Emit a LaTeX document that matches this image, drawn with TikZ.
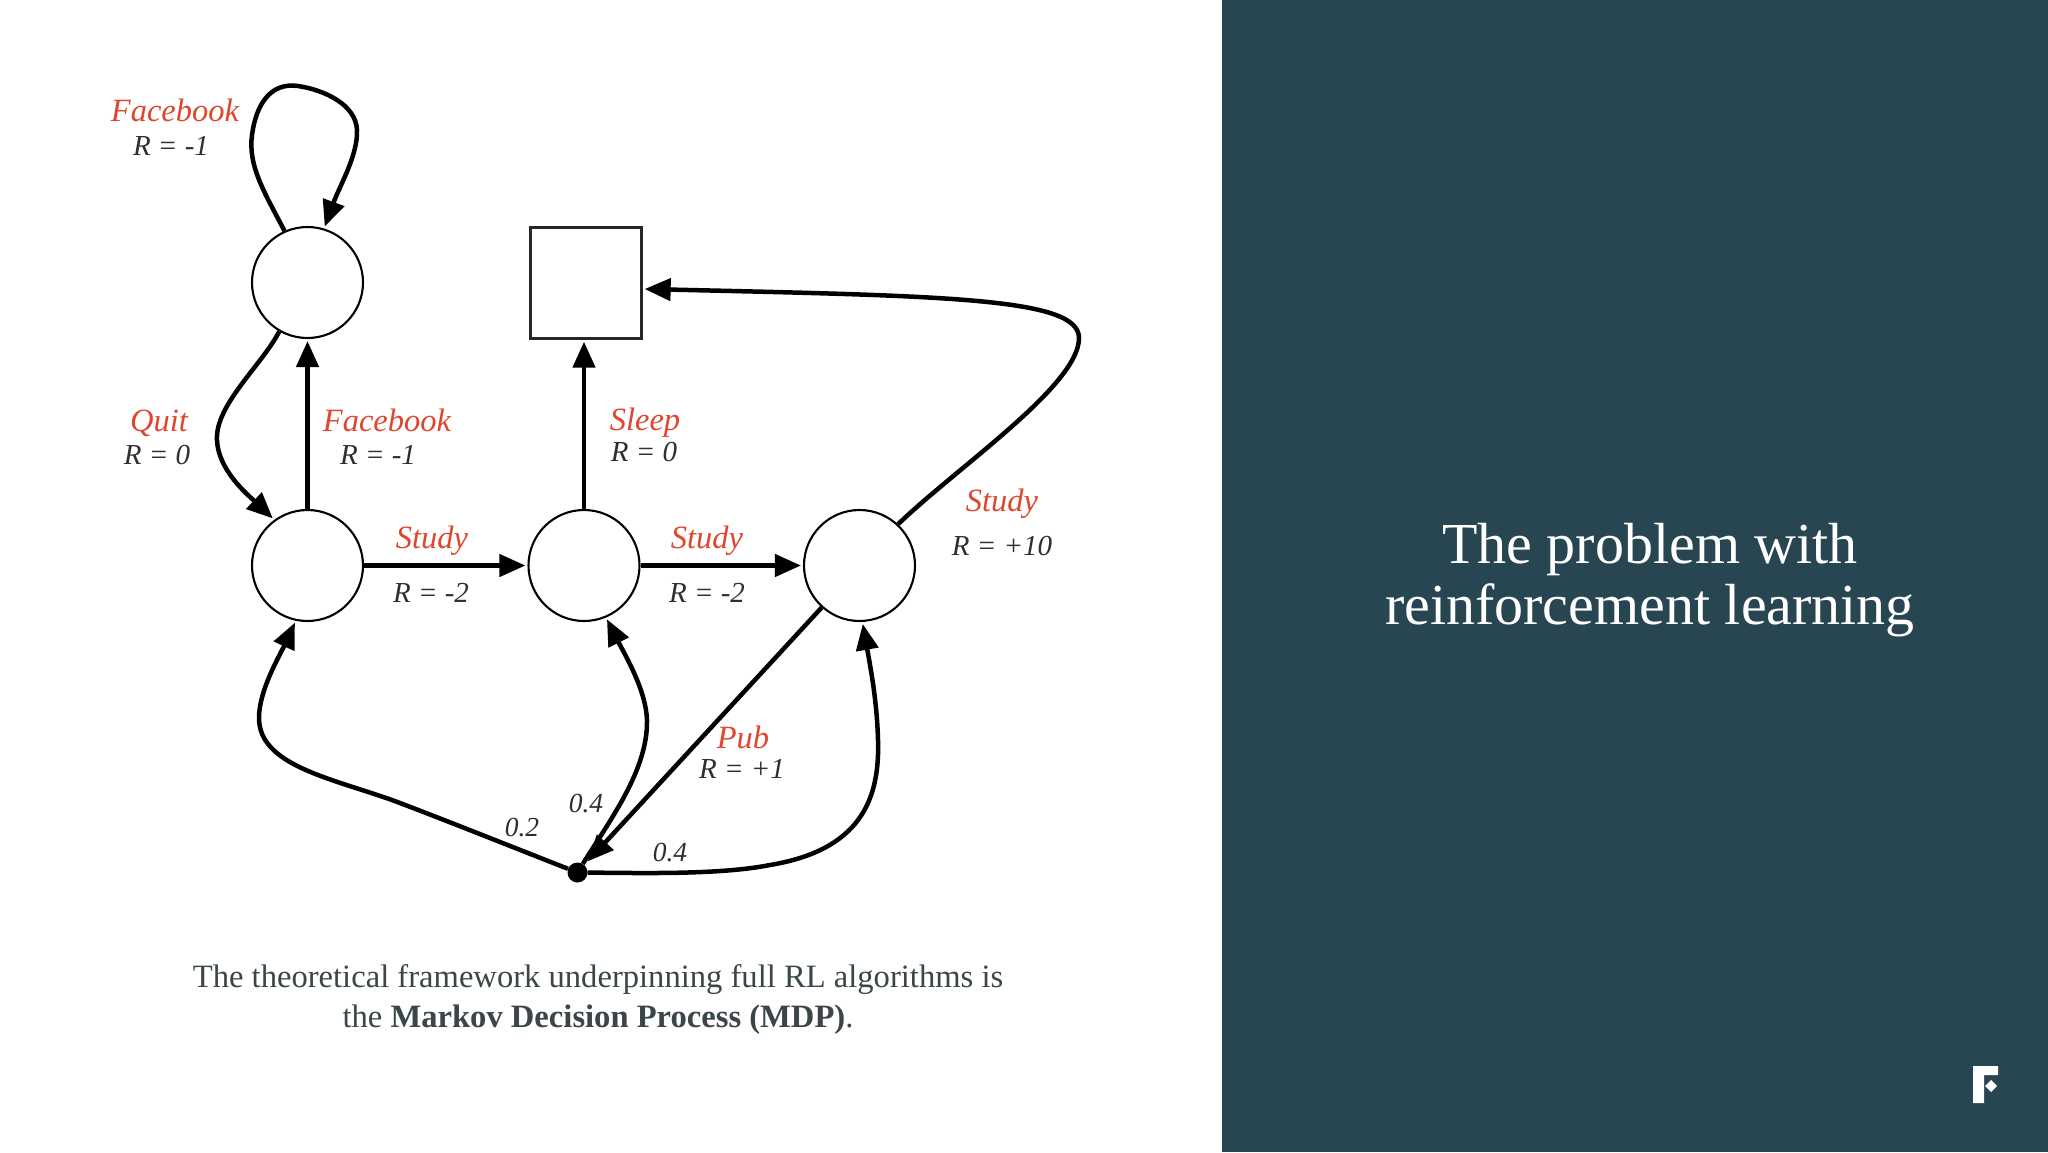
\documentclass[tikz,border=0pt]{standalone}
\usepackage{fontspec}
\setmainfont{Liberation Serif}
\usetikzlibrary{arrows.meta,calc}
\definecolor{panel}{HTML}{284552}
\definecolor{redlab}{HTML}{E0462E}
\definecolor{graylab}{HTML}{2F2F2F}
\definecolor{bodyc}{HTML}{3A4648}
\tikzset{
  state/.style={circle,draw=black,line width=2.1pt,minimum size=111pt,inner sep=0pt,fill=white},
  term/.style={rectangle,draw=black!85,line width=2.3pt,minimum width=111pt,minimum height=111pt,inner sep=0pt,fill=white},
  chance/.style={circle,fill=black,minimum size=20pt,inner sep=0pt},
  conn/.style={line width=4.5pt,draw=black,-{Triangle[length=26pt,width=22pt]},shorten >=2pt},
  act/.style={font=\fontsize{32.5}{32.5}\selectfont\itshape,text=redlab,inner sep=0pt},
  rew/.style={font=\fontsize{29}{29}\selectfont\itshape,text=graylab,inner sep=0pt},
  prob/.style={font=\fontsize{27.5}{27.5}\selectfont\itshape,text=graylab,inner sep=0pt},
  titletext/.style={font=\fontsize{58}{61.5}\selectfont,text=white,align=center,inner sep=0pt},
  bodytext/.style={font=\fontsize{32.6}{40}\selectfont,text=bodyc,align=center,inner sep=0pt}
}
\begin{document}
\begin{tikzpicture}[x=1pt,y=-1pt]
\useasboundingbox (0,0) rectangle (2048,1152);
\fill[white] (0,0) rectangle (1222,1152);
\fill[panel] (1222,0) rectangle (2048,1152);
% nodes
\node[state] (A) at (307.5,282.5) {};
\node[state] (B) at (307.5,565.5) {};
\node[state] (C) at (584,565.5) {};
\node[state] (D) at (859.5,565.5) {};
\node[term] (S) at (586,283) {};
\node[chance] (P) at (577.5,872.5) {};
% connectors
\draw[conn] (A.114) .. controls (263,190) and (248,165) .. (252,135)
  .. controls (256,105) and (270,82) .. (298,86)
  .. controls (325,90) and (356,105) .. (357,130)
  .. controls (358,155) and (340,185) .. (A.73);
\draw[conn] (A.240) .. controls (262,365) and (215,405) .. (217,440)
  .. controls (218,470) and (248,495) .. (B.126);
\draw[conn] (B.90) -- (A.270);
\draw[conn] (C.90) -- (C.90 |- S.south);
\draw[conn] (B.0) -- (C.180);
\draw[conn] (C.0) -- (D.180);
\draw[conn] (D.47) .. controls (960,465) and (1079,385) .. (1079,338)
  .. controls (1079,298) and (950,296) .. (S.-6);
\draw[conn,shorten >=5pt] (D.228) -- (P);
\draw[conn] (P) .. controls (520,850) and (440,818) .. (392,800)
  .. controls (330,778) and (259,765) .. (259,718)
  .. controls (259,690) and (280,655) .. (B.258);
\draw[conn] (P) .. controls (610,820) and (648,770) .. (647,720)
  .. controls (646,690) and (625,655) .. (C.293);
\draw[conn] (P) .. controls (640,873) and (720,875) .. (770,865)
  .. controls (860,850) and (880,800) .. (878,740)
  .. controls (877,700) and (870,665) .. (D.273);
% labels
\node[act] (l1) at (175,110) {Facebook};
\node[rew] (r1) at (171,146) {R = -1};
\node[act] (l2) at (159,423) {Quit};
\node[rew] (r2) at (157,455) {R = 0};
\node[act] (l3) at (387,420) {Facebook};
\node[rew] (r3) at (378,455) {R = -1};
\node[act] (l4) at (432,541) {Study};
\node[rew] (r4) at (431,593) {R = -2};
\node[act] (l5) at (707,541) {Study};
\node[rew] (r5) at (707,593) {R = -2};
\node[act] (l6) at (645,423) {Sleep};
\node[rew] (r6) at (644,452) {R = 0};
\node[act] (l7) at (1002,504) {Study};
\node[rew] (r7) at (1002,546) {R = +10};
\node[act] (l8) at (743,737) {Pub};
\node[rew] (r8) at (742,769) {R = +1};
\node[prob] (p1) at (522,828) {0.2};
\node[prob] (p2) at (586,804) {0.4};
\node[prob] (p3) at (670,853) {0.4};
\node[bodytext] (body) at (598,999.5) {The theoretical framework underpinning full RL algorithms is\\the \textbf{Markov Decision Process (MDP)}.};
\node[titletext] (title) at (1650,580) {The problem with\\reinforcement learning};
% logo
\fill[white] (1973,1066) -- (1998,1066) -- (1998,1075) -- (1984,1075) -- (1984,1103) -- (1973,1103) -- cycle;
\fill[white] (1991,1080) -- (1997,1086) -- (1991,1092) -- (1985,1086) -- cycle;
\end{tikzpicture}
\end{document}
